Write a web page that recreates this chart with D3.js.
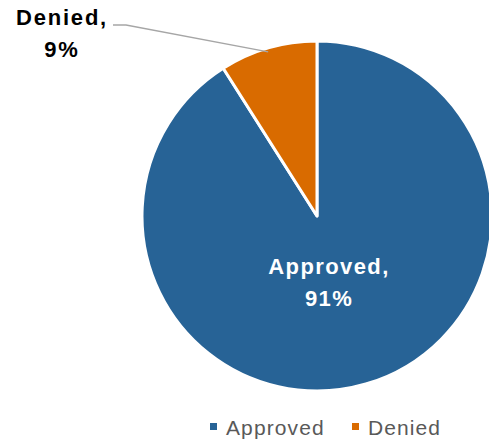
<!DOCTYPE html>
<html>
<head>
<meta charset="utf-8">
<script src="https://cdn.jsdelivr.net/npm/d3@7"></script>
<style>
  body { margin: 0; background: #fff; }
  text { font-family: "Liberation Sans", Arial, sans-serif; }
</style>
</head>
<body>
<div id="chart"></div>
<script>
const categories = ["Approved", "Denied"];
const values = [91, 9];
const colors = ["#276396", "#d96b00"];

const W = 489, H = 442;
const cx = 317, cy = 216, r = 175;

const svg = d3.select("#chart").append("svg").attr("width", W).attr("height", H);

const data = categories.map((c, i) => ({ name: c, value: values[i] }));

const pie = d3.pie().value(d => d.value).sort(null);
const arc = d3.arc().innerRadius(0).outerRadius(r);
const arcs = pie(data);

const g = svg.append("g").attr("transform", "translate(" + cx + "," + cy + ")");

g.selectAll("path").data(arcs).enter().append("path")
  .attr("d", arc)
  .attr("fill", (d, i) => colors[i])
  .attr("stroke", "#fff")
  .attr("stroke-width", 3)
  .attr("stroke-linejoin", "round");

// Approved label inside
const lab = g.append("text").attr("text-anchor", "middle")
  .attr("fill", "#fff").attr("font-weight", "bold").attr("font-size", 22)
  .attr("letter-spacing", 1.4);
lab.append("tspan").attr("x", 12).attr("y", 58).text(categories[0] + ",");
lab.append("tspan").attr("x", 12).attr("y", 90).text(values[0] + "%");

// Denied label outside with leader line
const dMid = (arcs[1].startAngle + arcs[1].endAngle) / 2;
const pEdge = [Math.sin(dMid) * r, -Math.cos(dMid) * r];
svg.append("polyline")
  .attr("points", [[cx + pEdge[0] + 0, cy + pEdge[1] + 4], [126 , 25], [113, 25]].map(p => p.join(",")).join(" "))
  .attr("fill", "none").attr("stroke", "#a6a6a6").attr("stroke-width", 1.3);

const dl = svg.append("text").attr("text-anchor", "middle")
  .attr("fill", "#000").attr("font-weight", "bold").attr("font-size", 22)
  .attr("letter-spacing", 1.8);
dl.append("tspan").attr("x", 62).attr("y", 25).text(categories[1] + ",");
dl.append("tspan").attr("x", 62).attr("y", 57).text(values[1] + "%");

// legend
const legX = [210, 352];
const leg = svg.selectAll("g.leg").data(data).enter().append("g")
  .attr("transform", (d, i) => "translate(" + legX[i] + ",427)");
leg.append("rect").attr("x", 0).attr("y", -4).attr("width", 7).attr("height", 7)
  .attr("fill", (d, i) => colors[i]);
leg.append("text").attr("x", 16).attr("y", 8).attr("font-size", 21)
  .attr("letter-spacing", 1.1)
  .attr("fill", "#595959").text(d => d.name);
</script>
</body>
</html>
